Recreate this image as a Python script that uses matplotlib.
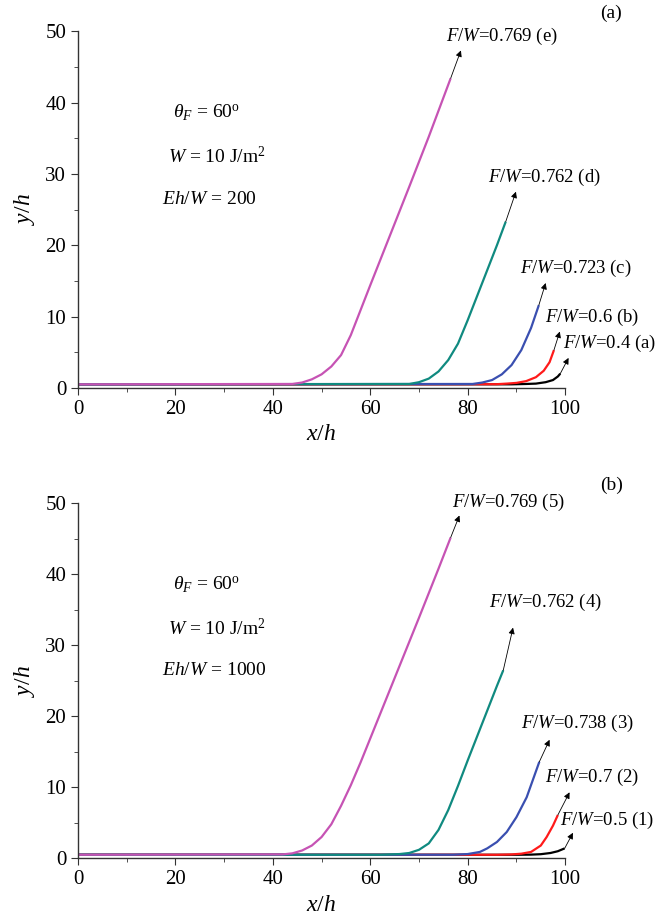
import matplotlib
matplotlib.use('Agg')
import matplotlib.pyplot as plt
from matplotlib.ticker import MultipleLocator, AutoMinorLocator

plt.rcParams['font.family'] = ['Liberation Serif', 'DejaVu Serif']
plt.rcParams['mathtext.fontset'] = 'custom'
plt.rcParams['mathtext.rm'] = 'Liberation Serif'
plt.rcParams['mathtext.it'] = 'Liberation Serif:italic'

# colours of the five curves (black, red, blue, teal, magenta)
colors = ['#000000', '#ff1a1a', '#3a4fb0', '#108a80', '#c653b4']

# ---- panel (a): Eh/W = 200 ----
a_x = [
    [0, 89, 92, 94, 96, 97.5, 98.5, 99.0],
    [0, 86, 88, 90, 92, 94, 95.6, 96.8, 97.7],
    [0, 81, 83, 85, 87, 89, 91, 93, 94.6],
    [0, 68, 70, 72, 74, 76, 78, 80, 82, 84, 86, 87.8],
    [0, 44, 46, 48, 50, 52, 54, 56, 58, 60, 64, 68, 72, 76.5],
]
a_y = [
    [0.5, 0.5, 0.55, 0.6, 0.8, 1.1, 1.6, 2.0],
    [0.5, 0.52, 0.6, 0.7, 0.95, 1.5, 2.4, 3.6, 5.3],
    [0.5, 0.55, 0.75, 1.1, 1.9, 3.2, 5.3, 8.4, 11.6],
    [0.5, 0.55, 0.8, 1.3, 2.3, 3.9, 6.2, 9.5, 13.0, 16.5, 20.0, 23.3],
    [0.5, 0.55, 0.75, 1.2, 1.9, 3.0, 4.6, 7.4, 10.9, 14.4, 21.3, 28.2, 35.2, 43.4],
]
a_tip = [(100.7, 4.2), (98.9, 7.9), (96.0, 14.7), (89.9, 27.5), (78.6, 47.3)]
a_labels = ['0.4 (a)', '0.6 (b)', '0.723 (c)', '0.762 (d)', '0.769 (e)']
a_label_pos = [(99.6, 6.3), (95.9, 9.9), (90.8, 16.8), (84.1, 29.5), (75.5, 49.2)]

# ---- panel (b): Eh/W = 1000 ----
b_x = [
    [0, 90, 93, 95, 97, 98.5, 99.9],
    [0, 86, 89, 91, 93, 95, 96.2, 97.5, 98.5],
    [0, 77, 80, 82.5, 84, 86, 88, 90, 92.1, 94.7],
    [0, 62, 66, 68, 70, 72, 74, 76, 78, 80, 82, 84, 86, 87.3],
    [0, 42, 44, 46, 48, 50, 52, 54, 56, 58, 62, 66, 70, 74, 76.5],
]
b_y = [
    [0.5, 0.5, 0.52, 0.58, 0.75, 1.0, 1.4],
    [0.5, 0.5, 0.55, 0.65, 0.9, 1.8, 3.0, 4.6, 6.1],
    [0.5, 0.5, 0.6, 0.9, 1.4, 2.3, 3.7, 5.8, 8.6, 13.6],
    [0.5, 0.5, 0.6, 0.75, 1.2, 2.1, 4.0, 6.8, 10.2, 13.8, 17.3, 20.8, 24.3, 26.5],
    [0.5, 0.55, 0.7, 1.1, 1.8, 3.0, 4.8, 7.4, 10.3, 13.5, 20.3, 27.1, 33.9, 40.8, 45.2],
]
b_tip = [(101.6, 3.6), (100.9, 9.3), (96.8, 16.7), (89.3, 32.5), (78.3, 48.3)]
b_labels = ['0.5 (1)', '0.7 (2)', '0.738 (3)', '0.762 (4)', '0.769 (5)']
b_label_pos = [(99.0, 5.4), (95.9, 11.4), (90.9, 19.0), (84.4, 36.1), (76.7, 50.2)]

panels = [
    ('(a)', a_x, a_y, a_tip, a_labels, a_label_pos, '200', [0.118, 0.577, 0.737, 0.389]),
    ('(b)', b_x, b_y, b_tip, b_labels, b_label_pos, '1000', [0.118, 0.064, 0.737, 0.387]),
]

fig = plt.figure(figsize=(6.61, 9.17), dpi=100)

for tag, xs, ys, tips, labels, label_pos, ehw, rect in panels:
    ax = fig.add_axes(rect)
    for i in range(5):
        ax.plot(xs[i], ys[i], color=colors[i], lw=1.6, solid_capstyle='butt',
                solid_joinstyle='round')
        ax.annotate('', xy=tips[i], xytext=(xs[i][-1], ys[i][-1]),
                    arrowprops=dict(arrowstyle='-|>', lw=0.6, color='black',
                                    mutation_scale=9, shrinkA=0, shrinkB=0),
                    annotation_clip=False)
        ax.text(label_pos[i][0], label_pos[i][1], r'$F/W$=' + labels[i],
                fontsize=13.5, va='center', ha='left', clip_on=False)

    ax.text(19.4, 38.5, r'$\theta_F$ = 60$^\mathrm{o}$', fontsize=14, va='center')
    ax.text(18.4, 32.4, r'$W$ = 10 J/m$^2$', fontsize=14, va='center')
    ax.text(17.3, 26.4, r'$Eh/W$ = ' + ehw, fontsize=14, va='center')
    ax.text(109.5, 52.5, tag, fontsize=14, va='center', ha='center', clip_on=False)

    ax.set_xlim(0, 100)
    ax.set_ylim(0, 50)
    ax.xaxis.set_major_locator(MultipleLocator(20))
    ax.xaxis.set_minor_locator(AutoMinorLocator(2))
    ax.yaxis.set_major_locator(MultipleLocator(10))
    ax.yaxis.set_minor_locator(AutoMinorLocator(2))
    ax.spines['top'].set_visible(False)
    ax.spines['right'].set_visible(False)
    for s in ['left', 'bottom']:
        ax.spines[s].set_color('#333333')
        ax.spines[s].set_linewidth(1.0)
    ax.tick_params(which='both', direction='out', color='#333333', labelsize=15)
    ax.tick_params(which='major', length=5)
    ax.tick_params(which='minor', length=3)
    ax.set_xlabel(r'$x/h$', fontsize=17, labelpad=4)
    ax.set_ylabel(r'$y/h$', fontsize=17, labelpad=6)

plt.savefig('out.png', dpi=100)
